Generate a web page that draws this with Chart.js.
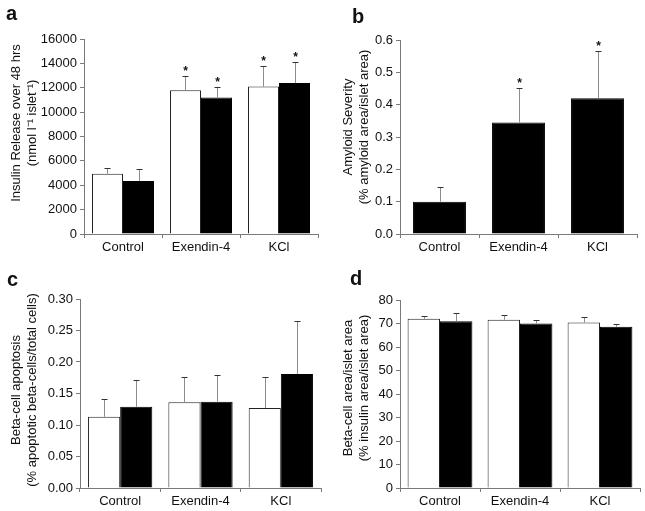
<!DOCTYPE html>
<html><head><meta charset="utf-8">
<script src="https://cdn.jsdelivr.net/npm/chart.js@4.4.0/dist/chart.umd.min.js"></script>
<style>
html,body{margin:0;padding:0;background:#fff;}
#wrap{position:relative;width:645px;height:511px;overflow:hidden;background:#fff;}
canvas{position:absolute;}
</style></head><body>
<div id="wrap">
<canvas id="ca" width="322" height="256" style="left:0;top:0"></canvas>
<canvas id="cb" width="323" height="256" style="left:322px;top:0"></canvas>
<canvas id="cc" width="322" height="255" style="left:0;top:256px"></canvas>
<canvas id="cd" width="323" height="255" style="left:322px;top:256px"></canvas>
</div>
<script>
// ---- data ----
const categories = ['Control', 'Exendin-4', 'KCl'];

const insulinWhite = [4950, 11800, 12100];
const insulinWhiteErr = [450, 1200, 1700];
const insulinWhiteSig = [false, true, true];
const insulinBlack = [4350, 11200, 12400];
const insulinBlackErr = [950, 850, 1700];
const insulinBlackSig = [false, true, true];
const insulinTicks = [0, 2000, 4000, 6000, 8000, 10000, 12000, 14000, 16000];

const amyloid = [0.10, 0.345, 0.42];
const amyloidErr = [0.045, 0.107, 0.146];
const amyloidSig = [false, true, true];
const amyloidTicks = [0, 0.1, 0.2, 0.3, 0.4, 0.5, 0.6];

const apoptosisWhite = [0.113, 0.136, 0.127];
const apoptosisWhiteErr = [0.028, 0.040, 0.049];
const apoptosisBlack = [0.129, 0.137, 0.181];
const apoptosisBlackErr = [0.043, 0.042, 0.084];
const apoptosisTicks = [0, 0.05, 0.10, 0.15, 0.20, 0.25, 0.30];

const areaWhite = [72.0, 71.6, 70.4];
const areaWhiteErr = [1.4, 2.2, 2.2];
const areaBlack = [71.0, 70.0, 68.6];
const areaBlackErr = [3.4, 1.7, 1.4];
const areaTicks = [0, 10, 20, 30, 40, 50, 60, 70, 80];

// ---- style ----
const FONT = '"Liberation Sans", Arial, Helvetica, sans-serif';
Chart.defaults.font.family = FONT;
Chart.defaults.font.size = 13;
Chart.defaults.color = '#111';
const AXIS = '#7a7a7a';

const decor = {
  id: 'decor',
  afterDatasetsDraw(chart) {
    const ctx = chart.ctx;
    const ys = chart.scales.y;
    chart.data.datasets.forEach((ds, i) => {
      const meta = chart.getDatasetMeta(i);
      meta.data.forEach((bar, j) => {
        if (!ds.err) return;
        const top = Math.round(ys.getPixelForValue(ds.data[j] + ds.err[j])) + 0.5;
        const x = Math.round(bar.x) + 0.5;
        ctx.save();
        ctx.lineWidth = 1;
        ctx.strokeStyle = '#8c8c8c';
        ctx.beginPath(); ctx.moveTo(x, bar.y); ctx.lineTo(x, top); ctx.stroke();
        ctx.strokeStyle = '#333';
        ctx.beginPath(); ctx.moveTo(x - 3, top); ctx.lineTo(x + 3, top); ctx.stroke();
        if (ds.sig && ds.sig[j]) {
          ctx.fillStyle = '#111';
          ctx.font = 'bold 12px ' + FONT;
          ctx.textAlign = 'center';
          ctx.textBaseline = 'alphabetic';
          ctx.fillText('*', x, top - 2);
        }
        ctx.restore();
      });
    });
  },
  afterDraw(chart, args, opts) {
    const ctx = chart.ctx;
    ctx.save();
    ctx.fillStyle = '#111';
    ctx.font = '13px ' + FONT;
    ctx.textAlign = 'center';
    ctx.textBaseline = 'middle';
    opts.title.forEach((line, k) => {
      ctx.save();
      ctx.translate(opts.tx[k], opts.ty);
      ctx.rotate(-Math.PI / 2);
      ctx.fillText(line, 0, 0);
      ctx.restore();
    });
    ctx.font = 'bold 20px ' + FONT;
    ctx.textAlign = 'left';
    ctx.textBaseline = 'alphabetic';
    ctx.fillText(opts.letter, opts.lx, opts.ly);
    ctx.restore();
  }
};

function makeChart(id, datasets, ticks, fmt, yWidth, xHeight, padding, catPct, decorOpts) {
  return new Chart(document.getElementById(id), {
    type: 'bar',
    data: { labels: categories, datasets },
    plugins: [decor],
    options: {
      responsive: false,
      animation: false,
      devicePixelRatio: 1,
      layout: { padding },
      plugins: { legend: { display: false }, tooltip: { enabled: false }, decor: decorOpts },
      datasets: { bar: { categoryPercentage: catPct, barPercentage: 1 } },
      scales: {
        x: {
          afterFit: s => { s.height = xHeight; },
          grid: { display: true, drawOnChartArea: false, tickLength: 4, color: AXIS, offset: true },
          border: { display: true, color: AXIS },
          ticks: { padding: 2, color: '#111', font: { size: 13 } }
        },
        y: {
          min: ticks[0], max: ticks[ticks.length - 1],
          afterBuildTicks: s => { s.ticks = ticks.map(v => ({ value: v })); },
          afterFit: s => { s.width = yWidth; },
          grid: { display: true, drawOnChartArea: false, tickLength: 4, color: AXIS },
          border: { display: true, color: AXIS },
          ticks: { padding: 3, color: '#111', font: { size: 13 }, callback: v => fmt(v) }
        }
      }
    }
  });
}

const whiteStyle = { backgroundColor: '#ffffff', borderColor: '#222', borderWidth: 1 };
const blackStyle = { backgroundColor: '#000000', borderColor: '#000', borderWidth: 1 };

makeChart('ca', [
  Object.assign({ data: insulinWhite, err: insulinWhiteErr, sig: insulinWhiteSig }, whiteStyle),
  Object.assign({ data: insulinBlack, err: insulinBlackErr, sig: insulinBlackSig }, blackStyle)
], insulinTicks, v => String(v), 84, 22, { left: 0, right: 4, top: 39, bottom: 0 }, 0.795,
{ title: ['Insulin Release over 48 hrs', '(nmol l\u207B\u00B9 islet\u207B\u00B9)'], tx: [16, 32], ty: 123, letter: 'a', lx: 6, ly: 20 });

makeChart('cb', [
  Object.assign({ data: amyloid, err: amyloidErr, sig: amyloidSig }, blackStyle)
], amyloidTicks, v => v.toFixed(1), 78, 22, { left: 0, right: 8, top: 40, bottom: 0 }, 0.67,
{ title: ['Amyloid Severity', '(% amyloid area/islet area)'], tx: [26, 42], ty: 127, letter: 'b', lx: 30, ly: 23 });

makeChart('cc', [
  Object.assign({ data: apoptosisWhite, err: apoptosisWhiteErr }, whiteStyle),
  Object.assign({ data: apoptosisBlack, err: apoptosisBlackErr }, blackStyle)
], apoptosisTicks, v => v.toFixed(2), 80, 23, { left: 0, right: 1, top: 43, bottom: 0 }, 0.80,
{ title: ['Beta-cell apoptosis', '(% apoptotic beta-cells/total cells)'], tx: [16, 32], ty: 134, letter: 'c', lx: 7, ly: 30 });

makeChart('cd', [
  Object.assign({ data: areaWhite, err: areaWhiteErr }, whiteStyle),
  Object.assign({ data: areaBlack, err: areaBlackErr }, blackStyle)
], areaTicks, v => String(v), 78, 23, { left: 0, right: 5, top: 44, bottom: 0 }, 0.81,
{ title: ['Beta-cell area/islet area', '(% insulin area/islet area)'], tx: [26, 42], ty: 132, letter: 'd', lx: 28, ly: 29 });
</script>
</body></html>
